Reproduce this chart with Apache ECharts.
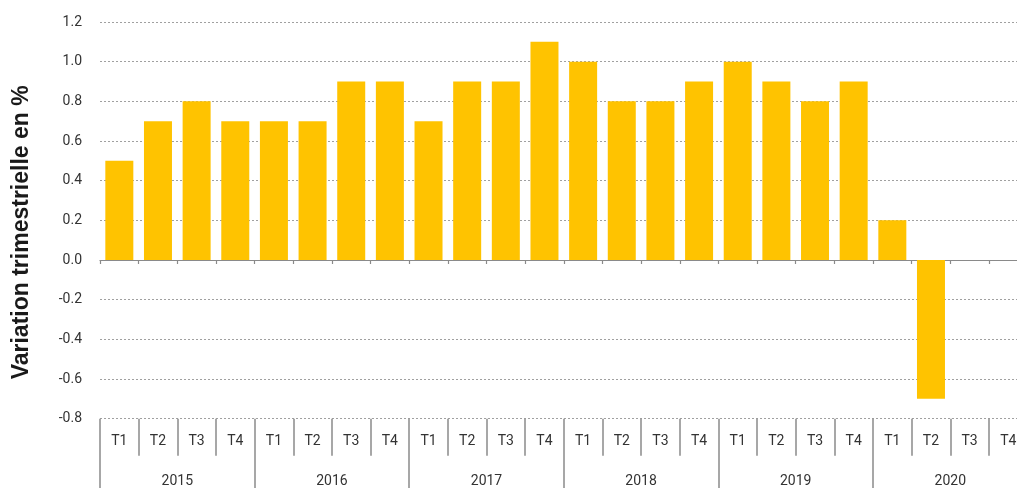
<!DOCTYPE html>
<html>
<head>
<meta charset="utf-8">
<script src="https://cdn.jsdelivr.net/npm/echarts@6/dist/echarts.min.js"></script>
<style>
  html, body { margin: 0; padding: 0; background: #fff; }
  #chart { width: 1017px; height: 488px; }
</style>
</head>
<body>
<div id="chart"></div>
<script>
// quarters shown along the bottom, grouped by year
const years = ["2015", "2016", "2017", "2018", "2019", "2020"];
const quarterNames = ["T1", "T2", "T3", "T4"];
const quarters = years.flatMap((y) => quarterNames.map((q) => q));
// quarterly change in %, 2020 T3/T4 not yet published
const values = [
  0.5, 0.7, 0.8, 0.7,
  0.7, 0.7, 0.9, 0.9,
  0.7, 0.9, 0.9, 1.1,
  1.0, 0.8, 0.8, 0.9,
  1.0, 0.9, 0.8, 0.9,
  0.2, -0.7, null, null,
];

const FONT = "Roboto";
const chart = echarts.init(document.getElementById("chart"), undefined, { renderer: "canvas" });

chart.setOption({
  animation: false,
  // plot runs past the right edge of the window, like the original
  grid: { left: 100, top: 22, width: 927.6, bottom: 69.3, containLabel: false, outerBoundsMode: "none" },
  yAxis: {
    type: "value",
    min: -0.8,
    max: 1.2,
    interval: 0.2,
    name: "Variation trimestrielle en %",
    nameLocation: "middle",
    nameGap: 67,
    nameTextStyle: {
      fontFamily: "Liberation Sans",
      fontSize: 23,
      fontWeight: "bold",
      color: "#1a1a1a",
      padding: [0, 24, 0, 0],
    },
    axisLine: { show: false },
    axisTick: { show: false },
    axisLabel: {
      margin: 18,
      fontFamily: FONT,
      fontSize: 14,
      color: "#333",
      formatter: (v) => v.toFixed(1),
    },
    splitLine: { show: true, lineStyle: { color: "#a0a0a0", type: [2, 2], width: 1 } },
  },
  xAxis: [
    {
      // zero line with short ticks
      type: "category",
      data: quarters,
      axisLine: { onZero: true, lineStyle: { color: "#8a8a8a", width: 1.2 } },
      axisTick: { show: true, length: 4, interval: 0, lineStyle: { color: "#8a8a8a", width: 1.2 } },
      axisLabel: { show: false },
    },
    {
      type: "category",
      data: quarters,
      position: "bottom",
      axisLine: { show: false, onZero: false },
      axisTick: { show: true, length: 37, interval: 0, lineStyle: { color: "#8a8a8a", width: 1.5 } },
      axisLabel: { interval: 0, margin: 16, fontFamily: FONT, fontSize: 14, color: "#333" },
    },
    {
      type: "category",
      data: years,
      position: "bottom",
      axisLine: { show: false, onZero: false },
      axisTick: { show: true, length: 72, interval: 0, lineStyle: { color: "#8a8a8a", width: 1.5 } },
      axisLabel: { interval: 0, margin: 56, fontFamily: FONT, fontSize: 14, color: "#333" },
    },
  ],
  series: [
    {
      type: "bar",
      xAxisIndex: 0,
      data: values,
      barWidth: 28,
      itemStyle: { color: "#ffc300" },
    },
  ],
});
</script>
</body>
</html>
